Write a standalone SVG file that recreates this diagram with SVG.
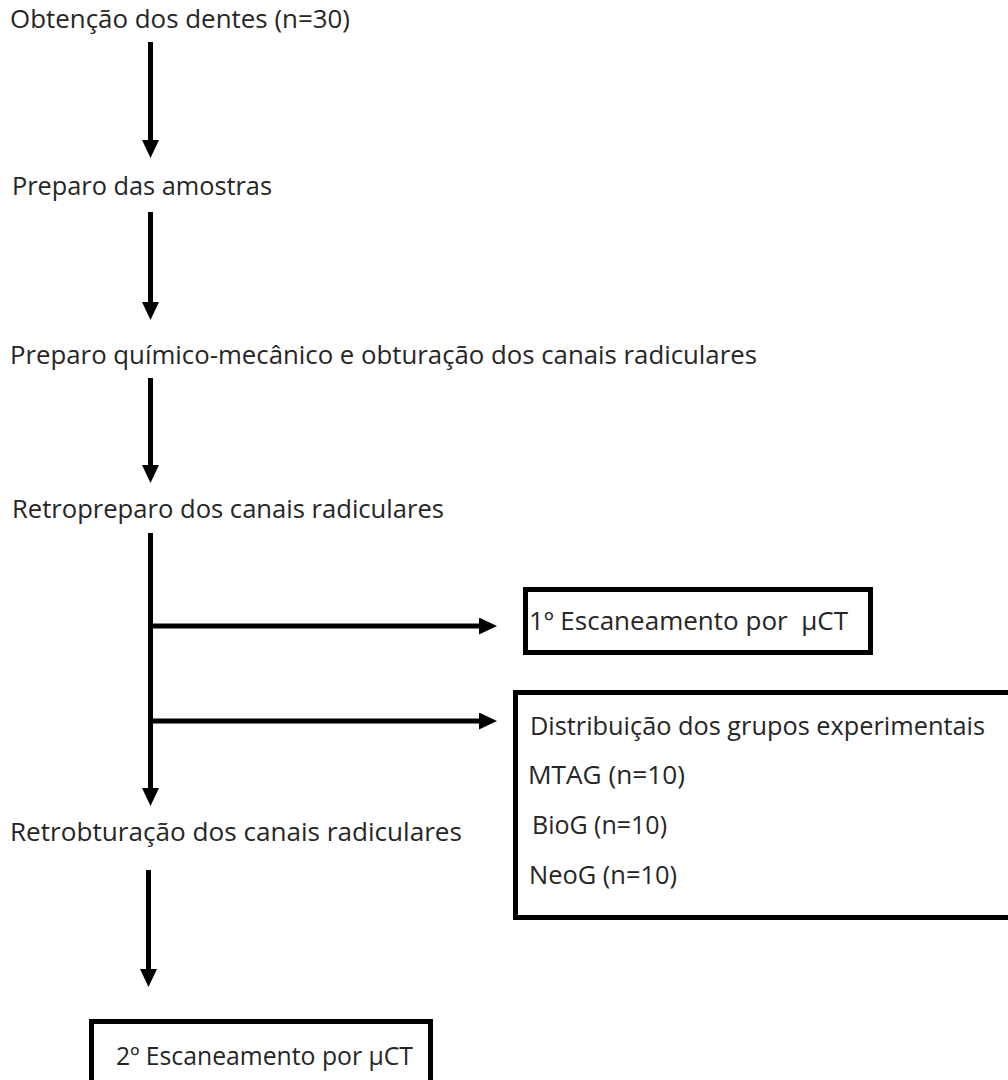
<svg xmlns="http://www.w3.org/2000/svg" width="1008" height="1080" viewBox="0 0 1008 1080">
<defs>
<marker id="ah" markerUnits="userSpaceOnUse" markerWidth="18" markerHeight="17" refX="1" refY="8.5" orient="auto">
<path d="M0,0 L18,8.5 L0,17 Z" fill="#000"/>
</marker>
<style>
text{font-family:"Open Sans","Liberation Sans",sans-serif;font-size:25.5px;fill:#262626;white-space:pre}
.c{stroke:#000;stroke-width:5;fill:none}
.a{marker-end:url(#ah)}
.box{fill:#fff;stroke:#000;stroke-width:5}
</style>
</defs>
<rect width="1008" height="1080" fill="#fff"/>
<g id="connectors">
<line class="c a" x1="150.5" y1="42" x2="150.5" y2="141"/>
<line class="c a" x1="150.5" y1="212" x2="150.5" y2="303"/>
<line class="c a" x1="150.5" y1="378" x2="150.5" y2="466"/>
<line class="c a" x1="150.5" y1="533" x2="150.5" y2="789"/>
<line class="c a" x1="150.5" y1="626" x2="480" y2="626"/>
<line class="c a" x1="150.5" y1="721" x2="480" y2="721"/>
<line class="c a" x1="148.5" y1="870" x2="148.5" y2="970"/>
</g>
<g id="n1"><text x="10" y="28" textLength="340" lengthAdjust="spacingAndGlyphs">Obtenção dos dentes (n=30)</text></g>
<g id="n2"><text x="12" y="195" textLength="260" lengthAdjust="spacingAndGlyphs">Preparo das amostras</text></g>
<g id="n3"><text x="10" y="364" textLength="747" lengthAdjust="spacingAndGlyphs">Preparo químico-mecânico e obturação dos canais radiculares</text></g>
<g id="n4"><text x="12" y="518" textLength="432" lengthAdjust="spacingAndGlyphs">Retropreparo dos canais radiculares</text></g>
<g id="n5"><text x="10" y="841" textLength="452" lengthAdjust="spacingAndGlyphs">Retrobturação dos canais radiculares</text></g>
<g id="n6"><rect class="box" x="525.5" y="589.5" width="345" height="63"/><text x="529" y="630" xml:space="preserve" textLength="319" lengthAdjust="spacingAndGlyphs">1º Escaneamento por  µCT</text></g>
<g id="n7"><rect class="box" x="515.5" y="692.5" width="500" height="225"/>
<text x="530" y="735" textLength="455" lengthAdjust="spacingAndGlyphs">Distribuição dos grupos experimentais</text>
<text x="528" y="784" textLength="157" lengthAdjust="spacingAndGlyphs">MTAG (n=10)</text>
<text x="532" y="834" textLength="135" lengthAdjust="spacingAndGlyphs">BioG (n=10)</text>
<text x="529" y="884" textLength="148" lengthAdjust="spacingAndGlyphs">NeoG (n=10)</text>
</g>
<g id="n8"><rect class="box" x="91.5" y="1021.5" width="339" height="70"/><text x="116" y="1065" textLength="297" lengthAdjust="spacingAndGlyphs">2º Escaneamento por µCT</text></g>
</svg>
